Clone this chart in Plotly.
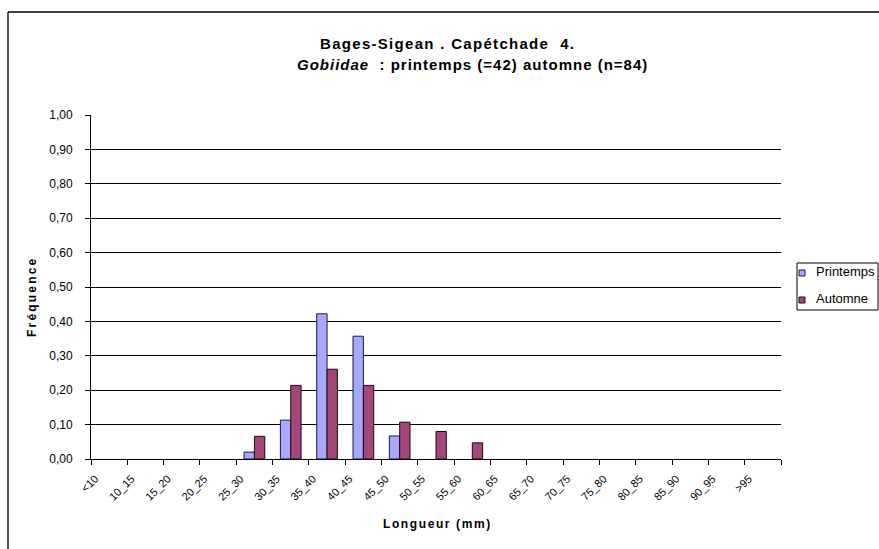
import plotly.graph_objects as go

categories = ["<10", "10_15", "15_20", "20_25", "25_30", "30_35", "35_40", "40_45",
              "45_50", "50_55", "55_60", "60_65", "65_70", "70_75", "75_80", "80_85",
              "85_90", "90_95", ">95"]
printemps = [0, 0, 0, 0, 0.02, 0.113, 0.422, 0.357, 0.067, 0, 0, 0, 0, 0, 0, 0, 0, 0, 0]
automne = [0, 0, 0, 0, 0.066, 0.214, 0.261, 0.214, 0.107, 0.08, 0.047, 0, 0, 0, 0, 0, 0, 0, 0]
y_ticks = [0, 0.1, 0.2, 0.3, 0.4, 0.5, 0.6, 0.7, 0.8, 0.9, 1.0]
series_names = ["Printemps", "Automne"]
series_colors = ["#A8A8FF", "#A4467A"]
series_edges = ["#1a1a3a", "#1a0a12"]

FONT = "Liberation Sans, Arial, sans-serif"
W, H = 879, 549
L, T = 91, 115
R = W - 781
B = H - 459
pw, ph = W - L - R, H - T - B

def px(x):
    return (x - L) / pw

def py(y):
    return (H - B - y) / ph

def spaced(txt, ls):
    return f'<span style="letter-spacing:{ls}px">{txt}</span>'

fig = go.Figure()
for name, vals, col, edge in zip(series_names, [printemps, automne], series_colors, series_edges):
    fig.add_trace(go.Bar(x=categories, y=vals, name=name, showlegend=False, hoverinfo="skip",
                         marker=dict(color=col,
                                     line=dict(color=edge, width=[1 if v else 0 for v in vals]))))

fig.update_layout(
    width=W, height=H,
    margin=dict(l=L, r=R, t=T, b=B),
    paper_bgcolor="white", plot_bgcolor="white",
    separators=", ",
    barmode="group", bargap=0.43, bargroupgap=0,
    font=dict(family=FONT, color="black"),
    showlegend=False,
    dragmode=False,
    xaxis=dict(type="category", showgrid=False, showline=True, linecolor="black",
               linewidth=1, ticks="outside", tickson="boundaries", ticklen=5,
               tickcolor="black", tickangle=-45, tickfont=dict(size=11, family=FONT),
               ticklabelshift=-14, ticklabelstandoff=8,
               range=[-0.5, 18.5], fixedrange=True, automargin=False),
    yaxis=dict(range=[0, 1.0], tickvals=y_ticks, tickformat=".2f", showgrid=True,
               gridcolor="black", gridwidth=1, showline=True, linecolor="black",
               linewidth=1, ticks="outside", ticklen=5, tickcolor="black",
               tickfont=dict(size=12, family=FONT), zeroline=False, ticklabelstandoff=10,
               fixedrange=True, automargin=False),
)

annotations = [
    dict(text="<b>" + spaced("Bages-Sigean . Capétchade \u00a04.", 1.3) + "</b>",
         x=px(447), y=py(43), font=dict(size=15, family=FONT)),
    dict(text="<b>" + spaced("<i>Gobiidae</i> \u00a0: printemps (=42) automne (n=84)", 1.0) + "</b>",
         x=px(473), y=py(65), font=dict(size=15, family=FONT)),
    dict(text="<b>" + spaced("Fréquence", 2.2) + "</b>", x=px(32), y=py(297), textangle=-90,
         font=dict(size=12, family=FONT)),
    dict(text="<b>" + spaced("Longueur (mm)", 1.6) + "</b>", x=px(437), y=py(524),
         font=dict(size=12, family=FONT)),
]
for a in annotations:
    fig.add_annotation(xref="paper", yref="paper", showarrow=False,
                       xanchor="center", yanchor="middle", **a)

# legend drawn by hand
fig.add_shape(type="rect", xref="paper", yref="paper",
              x0=px(797), x1=px(878), y0=py(310), y1=py(263),
              line=dict(color="black", width=1), fillcolor="white")
for i, (name, col, edge) in enumerate(zip(series_names, series_colors, series_edges)):
    yc = 272 + i * 27
    fig.add_shape(type="rect", xref="paper", yref="paper",
                  x0=px(799), x1=px(805), y0=py(yc + 4), y1=py(yc - 2),
                  line=dict(color=edge, width=1), fillcolor=col)
    fig.add_annotation(xref="paper", yref="paper", showarrow=False,
                       xanchor="left", yanchor="middle", x=px(814), y=py(yc - 1),
                       text=name, font=dict(size=13, family=FONT))

# outer chart border (top and left edges visible)
fig.add_shape(type="line", xref="paper", yref="paper",
              x0=px(8), x1=px(879), y0=py(12), y1=py(12),
              line=dict(color="black", width=1.3))
fig.add_shape(type="line", xref="paper", yref="paper",
              x0=px(8), x1=px(8), y0=py(12), y1=py(549),
              line=dict(color="black", width=1.3))

fig.write_html("out.html",
               config={"displayModeBar": False, "staticPlot": True},
               post_script="document.body.style.margin='0';document.body.style.overflow='hidden';")
